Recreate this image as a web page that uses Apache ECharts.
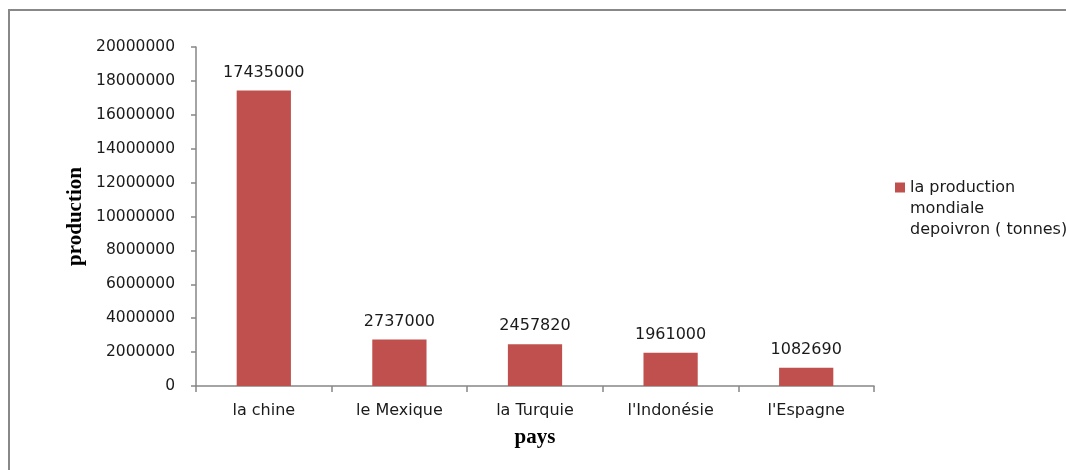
<!DOCTYPE html>
<html>
<head>
<meta charset="utf-8">
<script src="https://cdn.jsdelivr.net/npm/echarts@6/dist/echarts.min.js"></script>
<style>
  html, body { margin: 0; padding: 0; background: #fff; }
  #chart { width: 1066px; height: 470px; }
</style>
</head>
<body>
<div id="chart"></div>
<script>
// Pepper production by country (tonnes)
const categories = ["la chine", "le Mexique", "la Turquie", "l'Indonésie", "l'Espagne"];
const production = [17435000, 2737000, 2457820, 1961000, 1082690];
const seriesName = "la production\nmondiale\ndepoivron ( tonnes)";
const yMin = 0, yMax = 20000000, yStep = 2000000;

const axisGray = '#868686';
const textDark = '#1a1a1a';
const sansFont = 'DejaVu Sans';
const serifFont = 'Liberation Serif';

// Legend swatch: a 10x10 square at the top of a taller box, so it sits
// beside the first line of the three-line legend text.
const swatchIcon = 'path://M0,0L10,0L10,10L0,10Z M0,52';

const chart = echarts.init(document.getElementById('chart'), null, { renderer: 'canvas' });
chart.setOption({
  backgroundColor: '#ffffff',
  animation: false,
  graphic: [{
    type: 'rect',
    shape: { x: 9, y: 10, width: 1200, height: 600 },
    style: { fill: 'none', stroke: '#888888', lineWidth: 2 },
    silent: true,
    z: 0
  }],
  grid: { left: 196, right: 192, top: 47, bottom: 84, containLabel: false },
  legend: {
    show: true,
    left: 895,
    top: 177,
    padding: 0,
    orient: 'vertical',
    itemWidth: 10,
    itemHeight: 52,
    icon: swatchIcon,
    data: [seriesName],
    textStyle: {
      fontFamily: sansFont,
      fontSize: 16,
      color: textDark,
      lineHeight: 21
    }
  },
  xAxis: {
    type: 'category',
    data: categories,
    name: 'pays',
    nameLocation: 'middle',
    nameGap: 41,
    nameMoveOverlap: false,
    nameTextStyle: { fontFamily: serifFont, fontWeight: 'bold', fontSize: 21, color: '#000' },
    axisLine: { lineStyle: { color: axisGray, width: 1.5 } },
    axisTick: { show: true, length: 6, lineStyle: { color: axisGray, width: 1.5 } },
    axisLabel: { fontFamily: sansFont, fontSize: 16, color: textDark, margin: 17 }
  },
  yAxis: {
    type: 'value',
    min: yMin,
    max: yMax,
    interval: yStep,
    name: 'production',
    nameLocation: 'middle',
    nameGap: 110,
    nameMoveOverlap: false,
    nameTextStyle: { fontFamily: serifFont, fontWeight: 'bold', fontSize: 21, color: '#000' },
    splitLine: { show: false },
    axisLine: { show: true, lineStyle: { color: axisGray, width: 1.5 } },
    axisTick: { show: true, length: 5, lineStyle: { color: axisGray, width: 1.5 } },
    axisLabel: {
      fontFamily: sansFont,
      fontSize: 15.5,
      color: textDark,
      margin: 21,
      formatter: function (v) { return String(v); }
    }
  },
  series: [{
    name: seriesName,
    type: 'bar',
    data: production,
    barWidth: '40%',
    itemStyle: { color: '#C0504D' },
    label: {
      show: true,
      position: 'top',
      distance: 10,
      fontFamily: sansFont,
      fontSize: 16,
      color: textDark
    }
  }]
});
</script>
</body>
</html>
